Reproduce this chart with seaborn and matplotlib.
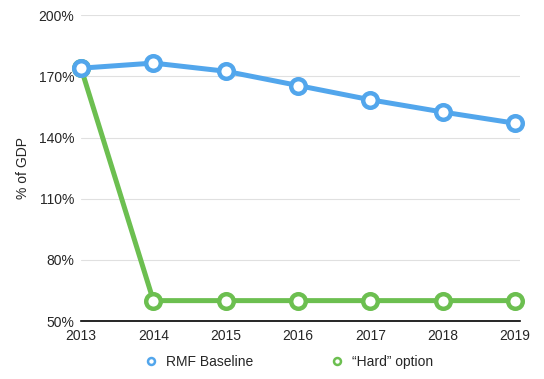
import pandas as pd
import numpy as np
import seaborn as sns
import matplotlib.pyplot as plt
from matplotlib.lines import Line2D

years = [2013, 2014, 2015, 2016, 2017, 2018, 2019]
baseline = [174, 176.5, 172.5, 165.5, 158.5, 152.5, 147]
hard = [174, 60, 60, 60, 60, 60, 60]
series_names = ["RMF Baseline", "\u201cHard\u201d option"]
yticks = [50, 80, 110, 140, 170, 200]

blue = "#52A6EC"
green = "#6CBF50"

df = pd.DataFrame({"year": years * 2,
                   "value": baseline + hard,
                   "series": [series_names[0]] * 7 + [series_names[1]] * 7})

sns.set_style("white")
plt.rcParams['font.family'] = ['Liberation Sans', 'DejaVu Sans']

fig = plt.figure(figsize=(5.44, 3.79), dpi=100)
ax = fig.add_axes([0.149, 0.153, 0.807, 0.807])

# green first so blue sits on top at 2013
for name, color in [(series_names[1], green), (series_names[0], blue)]:
    sub = df[df["series"] == name]
    sns.lineplot(data=sub, x="year", y="value", ax=ax, color=color, lw=3.6,
                 marker="o", markersize=10.5, markerfacecolor="white",
                 markeredgecolor=color, markeredgewidth=3.2, legend=False,
                 clip_on=False, zorder=3)

ax.set_xlim(2013, 2019.07)
ax.set_ylim(50, 200)
ax.set_xticks(years)
ax.set_xticklabels([str(y) for y in years], fontsize=10)
ax.set_yticks(yticks)
ax.set_yticklabels([f"{t}%" for t in yticks], fontsize=10)
ax.tick_params(axis="x", length=0, pad=6)
ax.tick_params(axis="y", length=0, pad=5)
ax.set_xlabel("")
ax.set_ylabel("% of GDP", fontsize=10, labelpad=6)
ax.grid(axis="y", color="#E0E0E0", lw=0.8)
for s in ["top", "right", "left"]:
    ax.spines[s].set_visible(False)
ax.spines["bottom"].set_color("black")
ax.spines["bottom"].set_linewidth(1.2)

handles = [Line2D([], [], ls="none", marker="o", markersize=5, markerfacecolor="white",
                  markeredgecolor=c, markeredgewidth=1.8) for c in (blue, green)]
fig.legend(handles, series_names, loc="center", bbox_to_anchor=(0.53, 0.045), ncol=2,
           frameon=False, fontsize=10, columnspacing=5.5, handletextpad=0.6, handlelength=1)

fig.savefig("out.png", dpi=100)
